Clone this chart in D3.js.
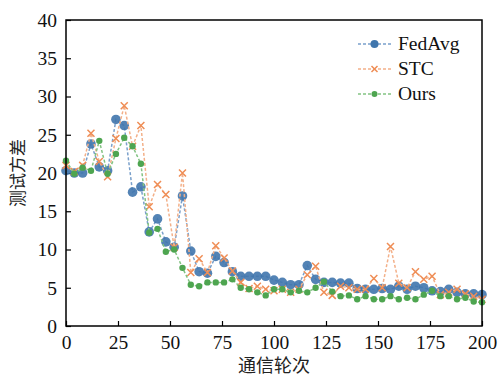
<!DOCTYPE html>
<html>
<head>
<meta charset="utf-8">
<script src="https://cdn.jsdelivr.net/npm/d3@7"></script>
<style>
  body { margin: 0; background: #fff; }
  svg { display: block; }
</style>
</head>
<body>
<svg id="chart" width="498" height="378"></svg>
<script>
// communication rounds, one point every 4 rounds
const rounds = d3.range(0, 201, 4);
const xTicks = [0, 25, 50, 75, 100, 125, 150, 175, 200];
const yTicks = [0, 5, 10, 15, 20, 25, 30, 35, 40];

const fedAvg = [20.3, 20, 20, 23.8, 20.8, 20.3, 27, 26.2, 17.5, 18.2,
  12.3, 14, 11, 10.3, 17, 9.8, 7.1, 6.9, 9.1, 8.3,
  7.1, 6.5, 6.5, 6.5, 6.5, 6, 5.7, 5.4, 5.4, 7.9,
  6.1, 5.7, 5.7, 5.6, 5.6, 4.9, 4.8, 4.8, 4.9, 4.8,
  5.2, 4.8, 5.2, 5, 4.6, 4.5, 4.8, 4.4, 4.2, 4.2, 4.1];
const stc = [21, 20.2, 21, 25.2, 21.5, 19.5, 24.5, 28.8, 23.5, 26.2,
  15.6, 18.5, 17.2, 10.3, 20, 7, 8.8, 7, 10.5, 8.9,
  7.2, 5.7, 4.9, 5.2, 4.8, 4.6, 4.8, 4.4, 4.8, 6.7,
  7.8, 4.4, 4, 5.2, 5, 4.8, 4.8, 6.2, 5, 10.4,
  5.6, 5, 7.1, 6.1, 6.5, 4.1, 4.4, 4.8, 4.2, 3.9, 3.5];
const ours = [21.6, 19.9, 20.7, 20.3, 24.2, 19.9, 22.5, 24.6, 23.5, 21.2,
  12.2, 12.7, 9.7, 10, 7.6, 5.4, 5.2, 5.7, 5.7, 5.7,
  6.1, 5, 4.8, 4.4, 4, 4.8, 4.8, 4.4, 4.6, 4.4,
  5, 5.8, 4.5, 3.9, 4, 3.5, 3.9, 3.5, 3.5, 3.9,
  3.5, 3.7, 3.5, 4.1, 4.6, 3.9, 3.9, 3.5, 3.7, 3.2, 3.1];

const seriesNames = ["FedAvg", "STC", "Ours"];
const seriesValues = [fedAvg, stc, ours];
const colors = ["#4076ad", "#ef8d55", "#4ea550"];
const lineColors = ["#7aa0cb", "#f3b089", "#82c382"];

const svg = d3.select("#chart");
const m = {left: 66, right: 16, top: 20, bottom: 52};
const W = 498, H = 378;

const x = d3.scaleLinear().domain([0, 200]).range([m.left, W - m.right]);
const y = d3.scaleLinear().domain([0, 40]).range([H - m.bottom, m.top]);

const font = "'Liberation Serif', 'Times New Roman', serif";

// axes (ticks point inward)
const gx = svg.append("g")
  .attr("transform", `translate(0,${H - m.bottom})`)
  .call(d3.axisBottom(x).tickValues(xTicks).tickSizeInner(-5).tickSizeOuter(0).tickPadding(9));
const gy = svg.append("g")
  .attr("transform", `translate(${m.left},0)`)
  .call(d3.axisLeft(y).tickValues(yTicks).tickSizeInner(-5).tickSizeOuter(0).tickPadding(9));
[gx, gy].forEach(g => {
  g.select(".domain").remove();
  g.selectAll("line").attr("stroke", "#000").attr("stroke-width", 1.2);
  g.selectAll("text").attr("font-family", font).attr("font-size", 19.5).attr("fill", "#111");
});

// lines and markers
const line = d3.line().x((d, i) => x(rounds[i])).y(d => y(d));
seriesValues.forEach((vals, k) => {
  const g = svg.append("g");
  g.append("path")
    .datum(vals)
    .attr("d", line)
    .attr("fill", "none")
    .attr("stroke", lineColors[k])
    .attr("stroke-width", 1.5)
    .attr("stroke-dasharray", "3,2");
  const pts = g.selectAll("g.pt").data(vals).join("g")
    .attr("transform", (d, i) => `translate(${x(rounds[i])},${y(d)})`);
  if (k === 0) {
    pts.append("circle").attr("r", 4.8).attr("fill", colors[0]).attr("opacity", 0.9);
  } else if (k === 1) {
    pts.append("path").attr("d", "M-3.5,-3.5L3.5,3.5M-3.5,3.5L3.5,-3.5")
      .attr("stroke", colors[1]).attr("stroke-width", 1.5);
  } else {
    pts.append("circle").attr("r", 3.2).attr("fill", colors[2]);
  }
});

// frame
svg.append("rect")
  .attr("x", m.left).attr("y", m.top)
  .attr("width", W - m.left - m.right).attr("height", H - m.top - m.bottom)
  .attr("fill", "none").attr("stroke", "#000").attr("stroke-width", 1.5);

// legend
const lg = svg.append("g").attr("transform", "translate(358,44)");
seriesNames.forEach((name, k) => {
  const row = lg.append("g").attr("transform", `translate(0,${k * 25})`);
  row.append("line").attr("x1", 0).attr("x2", 33).attr("y1", 0).attr("y2", 0)
    .attr("stroke", lineColors[k]).attr("stroke-width", 1.5).attr("stroke-dasharray", "3,2");
  if (k === 0) row.append("circle").attr("cx", 16.5).attr("r", 4).attr("fill", colors[0]);
  else if (k === 1) row.append("path").attr("d", "M13.5,-3L19.5,3M13.5,3L19.5,-3")
    .attr("stroke", colors[1]).attr("stroke-width", 1.5);
  else row.append("circle").attr("cx", 16.5).attr("r", 3).attr("fill", colors[2]);
  row.append("text").attr("x", 40).attr("y", 6).text(name)
    .attr("font-family", font).attr("font-size", 19.5).attr("fill", "#111");
});

// axis titles
svg.append("text")
  .attr("x", (m.left + W - m.right) / 2).attr("y", 372)
  .attr("text-anchor", "middle")
  .attr("font-family", "'Noto Sans CJK SC', sans-serif").attr("font-size", 18)
  .attr("fill", "#222").text("通信轮次");
svg.append("text")
  .attr("transform", "translate(24,173) rotate(-90)")
  .attr("text-anchor", "middle")
  .attr("font-family", "'Noto Sans CJK SC', sans-serif").attr("font-size", 17)
  .attr("fill", "#222").text("测试方差");
</script>
</body>
</html>
